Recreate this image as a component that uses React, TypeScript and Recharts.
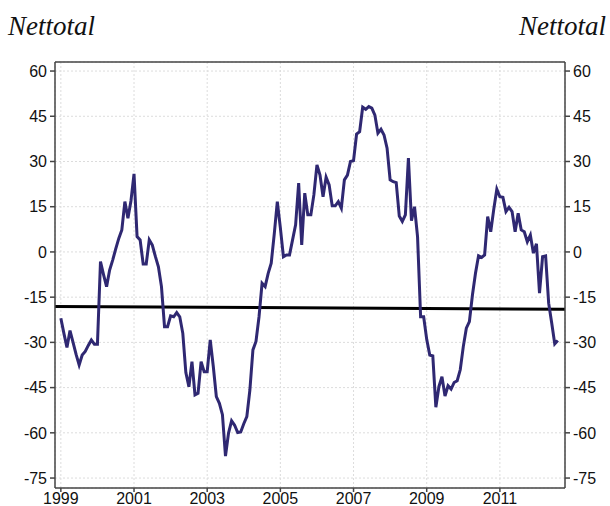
import {
  CartesianGrid,
  Line,
  LineChart,
  ReferenceLine,
  XAxis,
  YAxis,
} from "recharts";

// monthly readings, Jan 1999 .. Aug 2012
const startYear = 1999;
const nettotal = [
  -22, -27, -31.7, -26.1, -30, -34, -37.5, -34.2, -33, -31, -29.2, -30.6,
  -30.6, -3.2, -7.5, -11.5, -6, -2.7, 1, 4.5, 7.3, 16.7, 11.2, 17,
  25.9, 5.1, 4, -4, -4, 4, 2.3, -1.5, -4.9, -11.5, -24.8, -24.8,
  -21.2, -21.5, -20.1, -21.5, -27, -40, -44.7, -36.4, -47.4, -46.9, -36.4, -39.7,
  -39.7, -29.2, -38, -48, -50.2, -54, -67.7, -60.1, -56, -57.5, -59.9, -59.7,
  -57, -54.6, -45.8, -32.5, -29.7, -21.5, -10.4, -11.5, -7.1, -3.7, 6, 16.7,
  8, -1.6, -1, -1, 4, 9, 22.8, 2.3, 19.5, 12.3, 12.3, 19,
  28.9, 25.5, 18.3, 24.8, 22.2, 15.3, 15.3, 16.7, 14.5, 23.9, 25.5, 30,
  30.3, 39.1, 39.9, 48, 47.3, 48.2, 47.7, 45.4, 39.4, 40.7, 38.8, 34.4,
  23.9, 23.3, 23, 11.9, 10.1, 12.3, 31.1, 10.4, 15, 5, -21.5, -21.5,
  -29, -34.2, -34.5, -51.5, -44.7, -41.4, -47.8, -44.4, -45.5, -43.3, -42.7, -39.1,
  -31.4, -25.3, -23.1, -14.3, -7.1, -1.3, -1.8, -1, 11.7, 6.7, 14.2, 20.8,
  18.3, 18.1, 13.4, 14.8, 13.4, 6.7, 12.8, 7.3, 6.7, 3.4, 5.6, -0.4,
  2.7, -13.7, -1.6, -1.3, -17, -23.6, -30.5, -29.4,
];
const xTicks = [1999, 2001, 2003, 2005, 2007, 2009, 2011];
const yTicks = [-75, -60, -45, -30, -15, 0, 15, 30, 45, 60];
const xDomain = [1998.84, 2012.78];
const yDomain = [-78.3, 63];
const trendStart = -18.1;
const trendEnd = -19.0;

const data = nettotal.map((v, i) => ({ t: startYear + i / 12, v }));

const tickStyle = { fill: "#111", fontSize: 16, fontFamily: "Liberation Sans, Arial, sans-serif" };
const titleStyle: React.CSSProperties = {
  position: "absolute",
  top: 11,
  fontFamily: "Liberation Serif, Times New Roman, serif",
  fontStyle: "italic",
  fontSize: 27,
  color: "#111",
  lineHeight: "30px",
};

export default function App() {
  return (
    <div style={{ position: "absolute", left: 0, top: 0, width: 610, height: 506, background: "#fff" }}>
      <div style={{ ...titleStyle, left: 8 }}>Nettotal</div>
      <div style={{ ...titleStyle, right: 4 }}>Nettotal</div>
      <LineChart width={610} height={506} data={data} margin={{ top: 62, right: 0, bottom: 0, left: 0 }}>
        <CartesianGrid stroke="#dcdcdc" strokeDasharray="2 2" />
        <XAxis
          type="number"
          dataKey="t"
          domain={xDomain}
          ticks={xTicks}
          allowDataOverflow
          height={18}
          tickSize={4}
          tickMargin={1}
          tick={tickStyle}
          stroke="#444"
          strokeWidth={1.5}
        />
        <YAxis
          domain={yDomain}
          ticks={yTicks}
          allowDataOverflow
          width={55}
          tickSize={5}
          tickMargin={3}
          tick={tickStyle}
          stroke="#444"
          strokeWidth={1.5}
        />
        <YAxis
          yAxisId="right"
          orientation="right"
          domain={yDomain}
          ticks={yTicks}
          allowDataOverflow
          width={45}
          tickSize={5}
          tickMargin={3}
          tick={tickStyle}
          stroke="#444"
          strokeWidth={1.5}
        />
        <ReferenceLine y={yDomain[1]} stroke="#444" strokeWidth={1.5} />
        <ReferenceLine
          stroke="#000"
          strokeWidth={3}
          segment={[
            { x: xDomain[0], y: trendStart },
            { x: xDomain[1], y: trendEnd },
          ]}
          ifOverflow="hidden"
        />
        <Line
          type="linear"
          dataKey="v"
          stroke="#2f2872"
          strokeWidth={3}
          dot={false}
          isAnimationActive={false}
        />
      </LineChart>
    </div>
  );
}
